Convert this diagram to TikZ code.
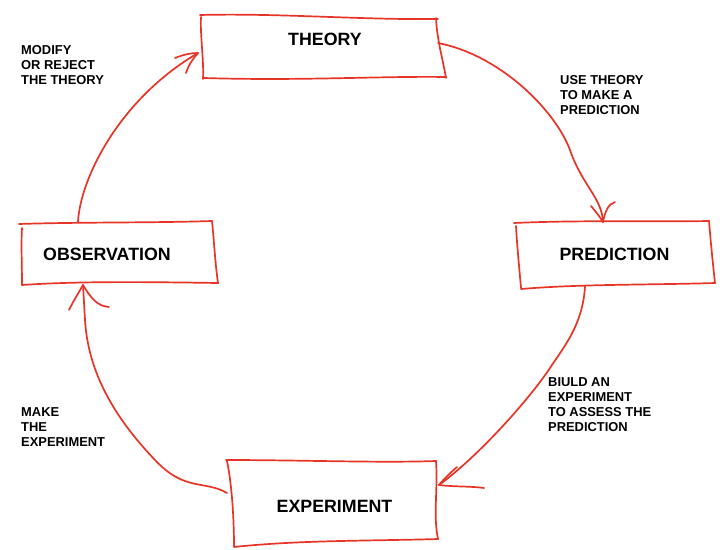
\documentclass[tikz,border=0pt]{standalone}
\usepackage{fontspec}
\setmainfont{Liberation Sans}
\definecolor{pen}{RGB}{232,52,38}
\begin{document}
\begin{tikzpicture}[x=1pt,y=-1pt,
  pen/.style={draw=pen, line width=1.7pt, line cap=round, line join=round},
  big/.style={font=\fontsize{17.8}{20}\selectfont\bfseries, anchor=base, inner sep=0pt},
  small/.style={font=\fontsize{12.9}{15}\selectfont\bfseries, align=left, anchor=north west, inner sep=0pt}]
\useasboundingbox (0,0) rectangle (720,549);

% hand drawn boxes
% THEORY
\draw[pen] (200,15) .. controls (280,13) and (360,20) .. (438,19);
\draw[pen] (436,18) .. controls (437,40) and (443,60) .. (446,78);
\draw[pen] (446,77) .. controls (380,76) and (300,81) .. (204,78);
\draw[pen] (203,79) .. controls (204,60) and (200,35) .. (201,17);
% PREDICTION
\draw[pen] (514,223) .. controls (580,220) and (650,222) .. (709,221);
\draw[pen] (709,221) .. controls (711,245) and (713,265) .. (715,283);
\draw[pen] (715,283) .. controls (650,285) and (580,284) .. (521,289);
\draw[pen] (521,288) .. controls (519,265) and (517,245) .. (516,226);
% OBSERVATION
\draw[pen] (19,224) .. controls (80,222) and (150,223) .. (212,221);
\draw[pen] (212,221) .. controls (214,240) and (215,262) .. (218,283);
\draw[pen] (218,283) .. controls (150,282) and (80,281) .. (22,285);
\draw[pen] (22,285) .. controls (22,265) and (21,245) .. (22,228);
% EXPERIMENT
\draw[pen] (226,460) .. controls (300,460) and (380,463) .. (436,461);
\draw[pen] (436,461) .. controls (438,490) and (433,515) .. (438,539);
\draw[pen] (438,539) .. controls (370,541) and (300,540) .. (234,547);
\draw[pen] (234,546) .. controls (234,520) and (232,485) .. (227,461);

% labels
\node[big] (theory) at (325,45.7) {THEORY};
\node[big] (prediction) at (614.5,260) {PREDICTION};
\node[big] (observation) at (107,260.5) {OBSERVATION};
\node[big] (experiment) at (334.5,512) {EXPERIMENT};

\node[small] (l1) at (21,45.5) {MODIFY\\OR REJECT\\THE THEORY};
\node[small] (l2) at (560,75.5) {USE THEORY\\TO MAKE A\\PREDICTION};
\node[small] (l3) at (548,377) {BIULD AN\\EXPERIMENT\\TO ASSESS THE\\PREDICTION};
\node[small] (l4) at (21,407.5) {MAKE\\THE\\EXPERIMENT};

% connector end points
\coordinate (obsTop) at (78,222);
\coordinate (thLeft) at (198,53);
\coordinate (thRight) at (438,43);
\coordinate (prTop) at (603,222);
\coordinate (prBot) at (585,286);
\coordinate (exRight) at (439,485);
\coordinate (exLeft) at (227,493);
\coordinate (obsBot) at (83,285);

% observation -> theory
\draw[pen] (obsTop) .. controls (80,180) and (118,100) .. (thLeft);
\draw[pen] (175,58) .. controls (185,54) and (192,53) .. (thLeft) .. controls (192,60) and (188,66) .. (186,73);

% theory -> prediction
\draw[pen] (thRight) .. controls (500,55) and (555,110) .. (570,150) .. controls (582,185) and (602,198) .. (prTop);
\draw[pen] (591,206) .. controls (596,212) and (600,217) .. (prTop) .. controls (605,212) and (608,204) .. (615,202);

% prediction -> experiment
\draw[pen] (prBot) .. controls (583,325) and (563,348) .. (550,368) .. controls (530,398) and (480,455) .. (exRight);
\draw[pen] (457,467) .. controls (450,473) and (444,479) .. (exRight) .. controls (455,487) and (470,486) .. (484,488);

% experiment -> observation
\draw[pen] (exLeft) .. controls (205,480) and (185,492) .. (155,460) .. controls (112,415) and (88,370) .. (85,320) -- (obsBot);
\draw[pen] (69,310) .. controls (74,300) and (79,292) .. (obsBot) .. controls (92,300) and (98,306) .. (109,307);
\end{tikzpicture}
\end{document}
